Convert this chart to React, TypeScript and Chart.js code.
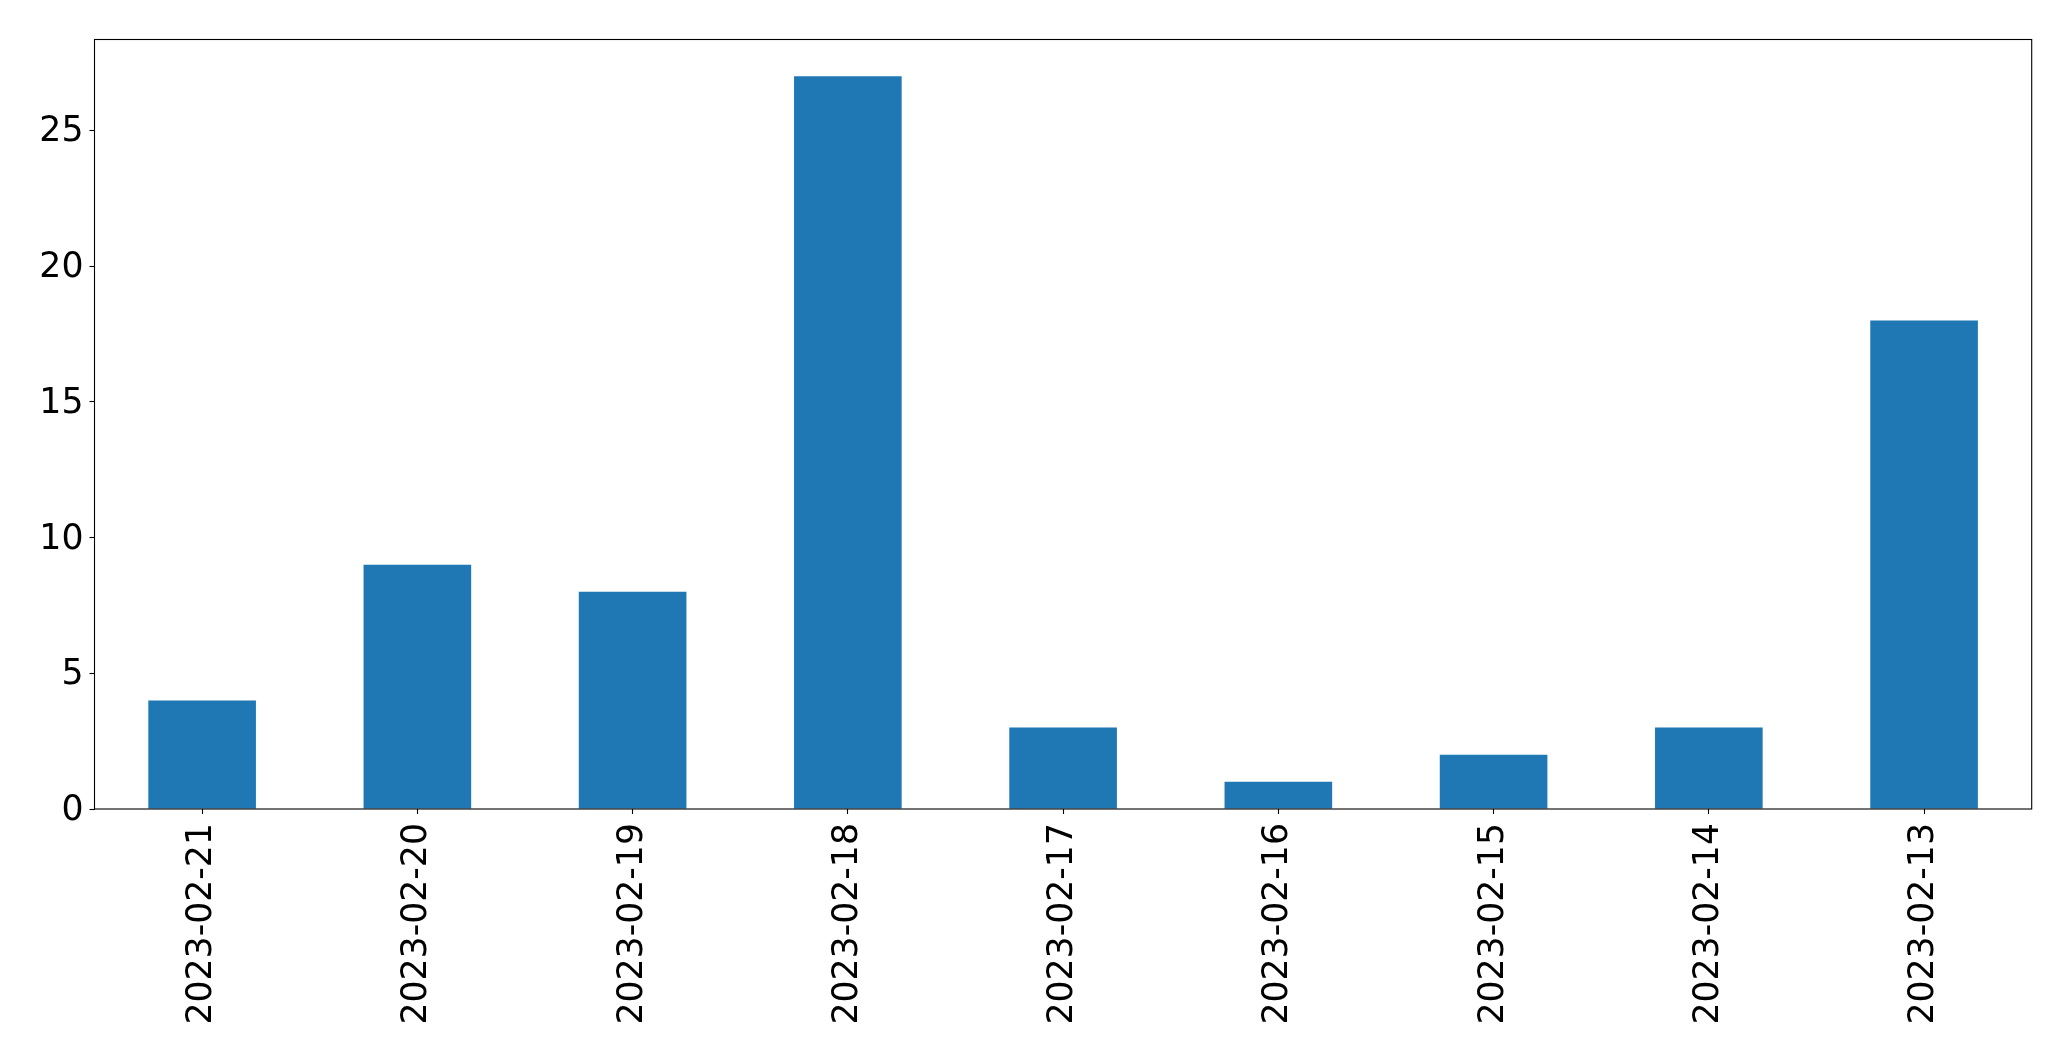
import React, { useEffect, useRef } from 'react';
import { Chart, registerables } from 'chart.js';

Chart.register(...registerables);

const categories = [
  '2023-02-21',
  '2023-02-20',
  '2023-02-19',
  '2023-02-18',
  '2023-02-17',
  '2023-02-16',
  '2023-02-15',
  '2023-02-14',
  '2023-02-13',
];
const counts = [4, 9, 8, 27, 3, 1, 2, 3, 18];
const yTickValues = [0, 5, 10, 15, 20, 25];
const yMin = 0;
const yMax = 28.35;

const W = 2071;
const H = 1061;

const frame = {
  id: 'frame',
  afterDraw(chart: any) {
    const { ctx, chartArea } = chart;
    ctx.save();
    ctx.strokeStyle = '#000';
    ctx.lineWidth = 1.1;
    ctx.strokeRect(chartArea.left, chartArea.top, chartArea.right - chartArea.left, chartArea.bottom - chartArea.top);
    ctx.restore();
  },
};

export default function App() {
  const ref = useRef<HTMLCanvasElement | null>(null);
  useEffect(() => {
    if (!ref.current) return;
    const font = { family: "'DejaVu Sans', sans-serif", size: 34.7 };
    const chart = new Chart(ref.current, {
      type: 'bar',
      data: {
        labels: categories,
        datasets: [
          {
            data: counts,
            backgroundColor: '#1f77b4',
            borderWidth: 0,
            categoryPercentage: 1,
            barPercentage: 0.5,
          },
        ],
      },
      options: {
        animation: false,
        responsive: false,
        devicePixelRatio: 1,
        layout: { padding: { top: 39.5, right: 39.3, left: 0, bottom: 0 } },
        plugins: { legend: { display: false }, tooltip: { enabled: false } },
        scales: {
          x: {
            offset: true,
            border: { display: false },
            grid: { offset: false, drawOnChartArea: false, drawTicks: true, tickLength: 5, color: '#000', tickWidth: 1.1 },
            ticks: { font, color: '#000', minRotation: 90, maxRotation: 90, padding: 9, autoSkip: false },
            afterFit(scale: any) {
              scale.height = H - 809;
            },
          },
          y: {
            min: yMin,
            max: yMax,
            border: { display: false },
            grid: { drawOnChartArea: false, drawTicks: true, tickLength: 5, color: '#000', tickWidth: 1.1 },
            ticks: { font, color: '#000', padding: 6, labelOffset: 2 },
            afterBuildTicks(scale: any) {
              scale.ticks = yTickValues.map((v) => ({ value: v }));
            },
            afterFit(scale: any) {
              scale.width = 94.5;
            },
          },
        },
      },
      plugins: [frame],
    });
    return () => chart.destroy();
  }, []);
  return (
    <div style={{ position: 'fixed', left: 0, top: 0, width: W, height: H, background: '#fff' }}>
      <canvas ref={ref} width={W} height={H} style={{ width: W, height: H, display: 'block' }} />
    </div>
  );
}
